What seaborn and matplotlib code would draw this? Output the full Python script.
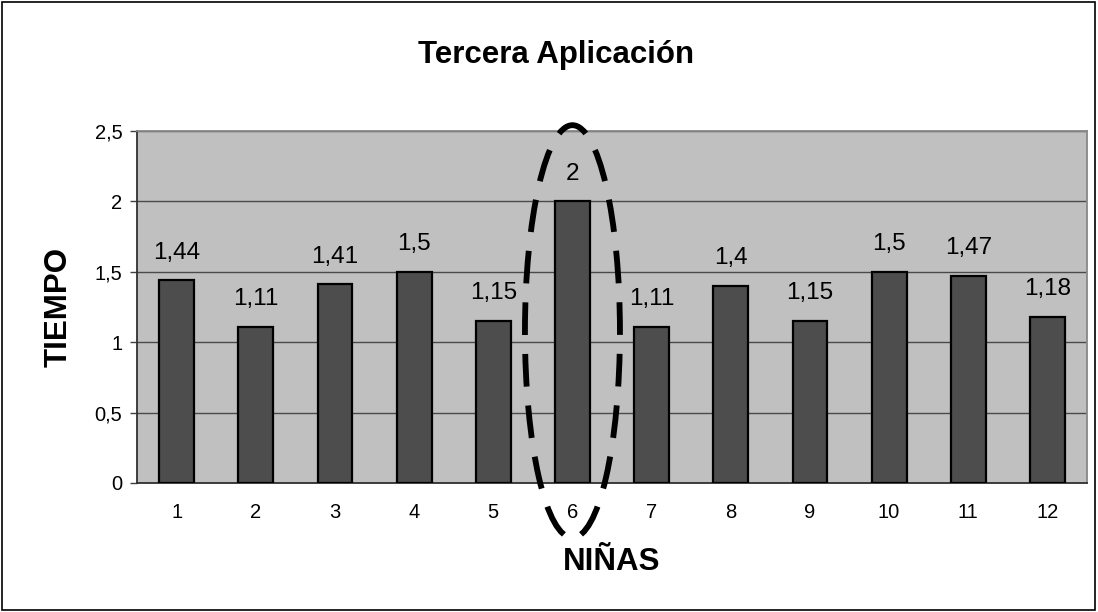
import matplotlib
matplotlib.use("Agg")
import matplotlib.pyplot as plt
from matplotlib.patches import Ellipse, Rectangle
from matplotlib.ticker import FuncFormatter, MultipleLocator
import seaborn as sns

ninas = ["1", "2", "3", "4", "5", "6", "7", "8", "9", "10", "11", "12"]
tiempo = [1.44, 1.11, 1.41, 1.5, 1.15, 2, 1.11, 1.4, 1.15, 1.5, 1.47, 1.18]
highlight = "6"


def coma(v):
    return f"{v:g}".replace(".", ",")


sns.set_style("white")
plt.rcParams["font.family"] = ["Liberation Sans", "DejaVu Sans"]
plt.rcParams["text.color"] = "black"
plt.rcParams["axes.labelcolor"] = "black"
plt.rcParams["xtick.color"] = "#404040"
plt.rcParams["ytick.color"] = "#404040"
plt.rcParams["xtick.labelcolor"] = "black"
plt.rcParams["ytick.labelcolor"] = "black"

fig = plt.figure(figsize=(10.98, 6.12), dpi=100)
ax = fig.add_axes([0.1248, 0.2108, 0.8652, 0.5752])
ax.set_facecolor("#c0c0c0")

sns.barplot(x=ninas, y=tiempo, color="#4d4d4d", edgecolor="black",
            linewidth=1.6, width=0.44, saturation=1, ax=ax, zorder=3)

ax.bar_label(ax.containers[0], labels=[coma(v) for v in tiempo],
             padding=12, fontsize=17.5, color="black")

ax.set_ylim(0, 2.5)
ax.set_xlim(-0.5, len(ninas) - 0.5)
ax.yaxis.set_major_locator(MultipleLocator(0.5))
ax.yaxis.set_major_formatter(FuncFormatter(lambda v, p: coma(v)))
ax.grid(axis="y", color="#4a4a4a", linewidth=1, zorder=1)
ax.set_axisbelow(True)

# ticks between categories on x
ax.set_xticks(range(len(ninas)))
ax.set_xticks([i + 0.5 for i in range(-1, len(ninas))], minor=True)
ax.tick_params(axis="x", which="major", length=0, pad=14.5, labelsize=14.5)
ax.tick_params(axis="x", which="minor", length=4.5, width=1, direction="out")
ax.tick_params(axis="y", length=5, width=1, direction="out",
               labelsize=14.5, left=True, pad=5.5)

for side in ["left", "bottom"]:
    ax.spines[side].set_color("#303030")
    ax.spines[side].set_linewidth(1.3)
for side in ["top", "right"]:
    ax.spines[side].set_color("#888888")
    ax.spines[side].set_linewidth(1.3)

fig.text(0.506, 0.897, "Tercera Aplicación", fontsize=22.5, fontweight="bold",
         ha="center", va="baseline")
ax.set_ylabel("TIEMPO", fontsize=22.5, fontweight="bold")
ax.yaxis.set_label_coords(-0.0663, 0.5)
ax.set_xlabel("NIÑAS", fontsize=22.5, fontweight="bold")
ax.xaxis.set_label_coords(0.5, -0.182)

# dashed ellipse around the highlighted bar (dash on top, gap at the bottom)
i = ninas.index(highlight)
ax.add_patch(Ellipse((i, 1.076), 1.2, 2.93, fill=False, edgecolor="black",
                     linewidth=4.2, linestyle=(7.23, (5.6, 3.25)), clip_on=False,
                     zorder=5))

# outer frame of the chart
fig.patches.append(Rectangle((0.002, 0.003), 0.995, 0.994, transform=fig.transFigure,
                             fill=False, edgecolor="black", linewidth=1.2))

fig.savefig("out.png", dpi=100)
